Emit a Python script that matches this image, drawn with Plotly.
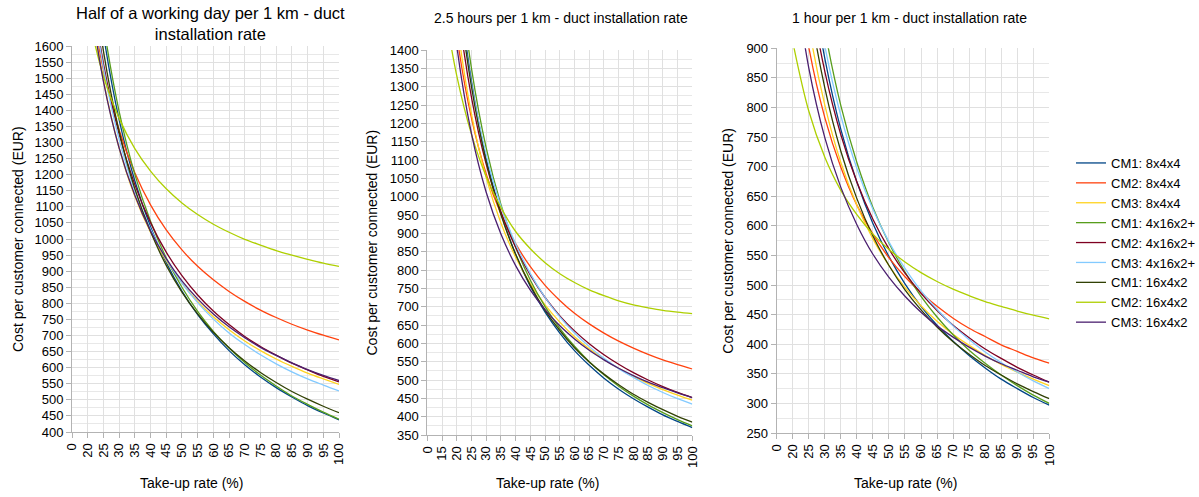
import plotly.graph_objects as go

# ---------------- data ----------------
series_names = ["CM1: 8x4x4", "CM2: 8x4x4", "CM3: 8x4x4",
                "CM1: 4x16x2+", "CM2: 4x16x2+", "CM3: 4x16x2+",
                "CM1: 16x4x2", "CM2: 16x4x2", "CM3: 16x4x2"]
series_colors = ["#004586", "#ff420e", "#ffd320", "#579d1c", "#7e0021",
                 "#83caff", "#314004", "#aecf00", "#4b1f6f"]

cats_a = ["0", "20", "25", "30", "35", "40", "45", "50", "55", "60", "65",
          "70", "75", "80", "85", "90", "95", "100"]
cats_b = ["0", "15", "20", "25", "30", "35", "40", "45", "50", "55", "60", "65",
          "70", "75", "80", "85", "90", "95", "100"]

# Chart 1: Half of a working day per 1 km
half_day = {
    "CM1: 8x4x4":   [None, 2038, 1638, 1371, 1181, 1038, 927, 838, 765, 705, 653, 609, 571, 538, 509, 482, 459, 438],
    "CM2: 8x4x4":   [None, 1806, 1526, 1339, 1206, 1106, 1028, 966, 915, 873, 837, 806, 779, 756, 735, 717, 701, 686],
    "CM3: 8x4x4":   [None, 1808, 1493, 1283, 1133, 1021, 933, 863, 806, 758, 718, 683, 653, 627, 604, 583, 565, 548],
    "CM1: 4x16x2+": [None, 2080, 1670, 1397, 1201, 1055, 941, 850, 775, 713, 661, 616, 577, 543, 512, 486, 462, 440],
    "CM2: 4x16x2+": [None, 1876, 1546, 1326, 1169, 1051, 959, 886, 826, 776, 734, 697, 666, 639, 614, 593, 573, 556],
    "CM3: 4x16x2+": [None, 1868, 1533, 1310, 1150, 1031, 937, 863, 802, 751, 708, 672, 640, 612, 587, 565, 546, 528],
    "CM1: 16x4x2":  [None, 1960, 1585, 1335, 1156, 1023, 918, 835, 767, 710, 662, 621, 585, 554, 526, 502, 480, 460],
    "CM2: 16x4x2":  [None, 1703, 1506, 1375, 1281, 1211, 1156, 1112, 1076, 1046, 1021, 999, 981, 964, 950, 937, 925, 915],
    "CM3: 16x4x2":  [None, 1800, 1490, 1283, 1136, 1025, 939, 870, 814, 767, 727, 693, 663, 638, 615, 594, 576, 560],
}

# Chart 2: 2.5 hours per 1 km
hours_2_5 = {
    "CM1: 8x4x4":   [None, 2155, 1630, 1315, 1105, 955, 843, 755, 685, 628, 580, 540, 505, 475, 449, 426, 405, 387, 370],
    "CM2: 8x4x4":   [None, 1822, 1442, 1214, 1062, 953, 872, 809, 758, 717, 682, 653, 628, 606, 587, 570, 555, 542, 530],
    "CM3: 8x4x4":   [None, 1918, 1485, 1225, 1052, 928, 835, 763, 705, 658, 618, 585, 556, 532, 510, 491, 474, 459, 445],
    "CM1: 4x16x2+": [None, 2217, 1675, 1350, 1133, 979, 863, 772, 700, 641, 592, 550, 514, 483, 456, 432, 411, 392, 375],
    "CM2: 4x16x2+": [None, 1999, 1544, 1271, 1089, 959, 862, 786, 725, 675, 634, 599, 569, 543, 520, 500, 482, 466, 452],
    "CM3: 4x16x2+": [None, 2083, 1598, 1307, 1113, 974, 871, 790, 725, 672, 628, 591, 559, 531, 507, 485, 466, 449, 434],
    "CM1: 16x4x2":  [None, 2113, 1605, 1300, 1097, 951, 843, 758, 690, 635, 588, 549, 516, 487, 461, 439, 419, 401, 385],
    "CM2: 16x4x2":  [None, 1560, 1330, 1170, 1055, 970, 905, 858, 820, 790, 766, 746, 730, 716, 705, 697, 690, 685, 681],
    "CM3: 16x4x2":  [None, 1812, 1412, 1172, 1012, 898, 812, 745, 692, 648, 612, 581, 555, 532, 512, 494, 479, 465, 452],
}

# Chart 3: 1 hour per 1 km
hour_1 = {
    "CM1: 8x4x4":   [None, 1301, 1050, 883, 763, 674, 604, 548, 502, 464, 432, 405, 381, 360, 341, 325, 310, 297],
    "CM2: 8x4x4":   [None, 1080, 902, 783, 699, 635, 586, 546, 514, 487, 464, 444, 427, 413, 399, 388, 377, 368],
    "CM3: 8x4x4":   [None, 1142, 939, 804, 707, 635, 578, 533, 496, 465, 439, 417, 398, 381, 366, 353, 341, 330],
    "CM1: 4x16x2+": [None, 1384, 1113, 932, 803, 707, 631, 571, 522, 481, 446, 416, 390, 368, 348, 330, 314, 300],
    "CM2: 4x16x2+": [None, 1236, 1011, 861, 754, 674, 611, 561, 520, 486, 457, 432, 411, 392, 376, 361, 348, 336],
    "CM3: 4x16x2+": [None, 1317, 1069, 904, 786, 697, 628, 573, 528, 490, 459, 431, 408, 387, 369, 353, 338, 325],
    "CM1: 16x4x2":  [None, 1208, 983, 833, 726, 646, 583, 533, 492, 458, 429, 404, 383, 364, 348, 333, 320, 308],
    "CM2: 16x4x2":  [None, 911, 794, 716, 660, 619, 586, 560, 539, 521, 506, 493, 482, 472, 464, 456, 449, 443],
    "CM3: 16x4x2":  [None, 1044, 867, 749, 665, 602, 552, 513, 481, 454, 431, 412, 395, 380, 367, 356, 345, 336],
}

titles = ["Half of a working day per 1 km - duct<br>installation rate",
          "2.5 hours per 1 km - duct installation rate",
          "1 hour per 1 km - duct installation rate"]
title_sizes = [16.5, 14, 14]
y_ranges = [(400, 1600), (350, 1400), (250, 900)]
x_title = "Take-up rate (%)"
y_title = "Cost per customer connected (EUR)"

# ---------------- layout geometry (paper fractions) ----------------
W, H = 1199, 497
FONT = "Liberation Sans, Arial, sans-serif"
x_domains = [(72 / W, 339 / W), (427.3 / W, 692.3 / W), (776.7 / W, 1049.3 / W)]
y_domains = [(1 - 432 / H, 1 - 46 / H), (1 - 435 / H, 1 - 50 / H), (1 - 433 / H, 1 - 48.3 / H)]

fig = go.Figure()
charts = [(cats_a, half_day), (cats_b, hours_2_5), (cats_a, hour_1)]
for i, (cats, data) in enumerate(charts):
    xa = "x" if i == 0 else f"x{i+1}"
    ya = "y" if i == 0 else f"y{i+1}"
    for name, color in zip(series_names, series_colors):
        fig.add_trace(go.Scatter(
            x=cats, y=data[name], mode="lines", name=name,
            line=dict(color=color, width=1.3, shape="spline", smoothing=1),
            xaxis=xa, yaxis=ya, showlegend=(i == 0), legendgroup=name,
            hoverinfo="skip"))

grid = "#e0e0e0"
minor_grid = "#e8e8e8"
axis_line = "#b3b3b3"
layout = dict(
    width=W, height=H,
    margin=dict(l=0, r=0, t=0, b=0, autoexpand=False),
    paper_bgcolor="white", plot_bgcolor="white",
    font=dict(family=FONT, size=13, color="#000000"),
    legend=dict(x=1071 / W, y=1 - 243 / H, xanchor="left", yanchor="middle",
                font=dict(size=13), bgcolor="rgba(0,0,0,0)",
                itemwidth=30, tracegroupgap=0, itemclick=False),
    annotations=[],
)
for i in range(3):
    sx = "" if i == 0 else str(i + 1)
    cats = charts[i][0]
    layout["xaxis" + sx] = dict(
        domain=list(x_domains[i]), anchor="y" + sx, type="category",
        range=[0, len(cats) - 1], tickangle=-90, tickmode="linear", tick0=0, dtick=1,
        showgrid=True, gridcolor=grid, gridwidth=1,
        showline=True, linecolor=axis_line, linewidth=1,
        ticks="outside", ticklen=5, tickcolor=axis_line,
        tickfont=dict(size=13), zeroline=False, fixedrange=True, automargin=False)
    layout["yaxis" + sx] = dict(
        domain=list(y_domains[i]), anchor="x" + sx,
        range=list(y_ranges[i]), dtick=50, tick0=0,
        showgrid=True, gridcolor=grid, gridwidth=1,
        minor=dict(dtick=25, showgrid=True, gridcolor=minor_grid, ticks=""),
        showline=True, linecolor=axis_line, linewidth=1,
        ticks="outside", ticklen=5, tickcolor=axis_line,
        tickfont=dict(size=13), zeroline=False, fixedrange=True, automargin=False)

# titles and axis titles as annotations
title_pos = [(210, 24), (561, 18), (909, 18)]
xtitle_pos = [191, 547, 905]
ytitle_pos = [18, 372, 728]
for i in range(3):
    layout["annotations"].append(dict(
        text=titles[i], x=title_pos[i][0] / W, y=1 - title_pos[i][1] / H,
        xref="paper", yref="paper", showarrow=False, xanchor="center", yanchor="middle",
        font=dict(size=title_sizes[i], color="#000000")))
    layout["annotations"].append(dict(
        text=x_title, x=xtitle_pos[i] / W, y=1 - 483 / H,
        xref="paper", yref="paper", showarrow=False, xanchor="center", yanchor="middle",
        font=dict(size=14, color="#000000")))
    yd = y_domains[i]
    layout["annotations"].append(dict(
        text=y_title, x=ytitle_pos[i] / W, y=(yd[0] + yd[1]) / 2,
        xref="paper", yref="paper", showarrow=False, xanchor="center", yanchor="middle",
        textangle=-90, font=dict(size=14, color="#000000")))

fig.update_layout(**layout)
fig.write_html("out.html",
               config={"displayModeBar": False, "staticPlot": True},
               post_script="document.body.style.margin='0';document.body.style.overflow='hidden';")
